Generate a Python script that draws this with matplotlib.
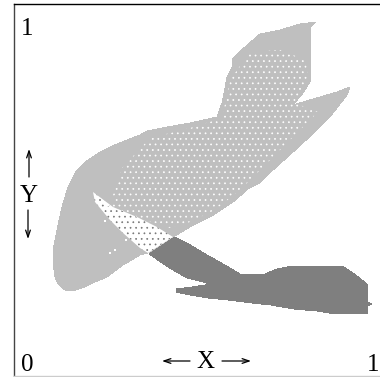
import numpy as np
import matplotlib
matplotlib.use("Agg")
import matplotlib.pyplot as plt

plt.rcParams["font.family"] = ["Liberation Serif", "DejaVu Serif"]
plt.rcParams["hatch.linewidth"] = 0.5

W, H = 380, 377
LEFT, TOP, BOTTOM = 14, 4, 376
LIGHT = "#bfbfbf"
DARK = "#7f7f7f"

# outlines (image pixels, converted below)
light_x = [316, 311, 310, 311, 303, 293, 303, 320, 337, 350, 347, 333, 317, 293, 273, 260,
           248, 233, 210, 190, 173, 148, 140, 123, 107, 95, 82, 72, 65, 58, 55, 53, 54, 57, 62, 68,
           75, 85, 100, 117, 140, 147, 173, 190, 217, 222, 225, 227, 232, 233, 245, 260, 280, 300]
light_y = [22, 27, 50, 80, 93, 105, 102, 97, 92, 87, 95, 113, 130, 152, 170, 183,
           189, 202, 217, 227, 237, 253, 255, 265, 277, 282, 288, 291, 290, 284, 277, 262, 245, 230, 207, 187,
           173, 162, 152, 144, 135, 131, 126, 123, 117, 103, 88, 77, 67, 58, 47, 34, 30, 24]

wedge_x = [93, 113, 137, 157, 173, 148, 140, 123, 110, 95]
wedge_y = [192, 207, 217, 227, 237, 253, 248, 233, 220, 202]

dark_x = [149, 175, 187, 207, 223, 240, 265, 277, 292, 342, 353, 367, 368, 372, 368, 368,
          336, 317, 294, 271, 252, 228, 208, 190, 176, 176, 192, 205, 210, 203, 187, 168, 155]
dark_y = [254, 237, 243, 255, 264, 274, 274, 269, 266, 266, 273, 284, 302, 304, 306, 314,
          314, 311, 309, 305, 303, 300, 298, 295, 292, 289, 287, 285, 284, 282, 278, 267, 258]

# part of the light shape that carries the white speckle
speck_x = [113, 122, 150, 190, 222, 230, 250, 280, 306, 308, 295, 318, 300, 280, 255, 240, 215, 190, 170, 137, 113]
speck_y = [195, 168, 138, 128, 118, 80, 52, 50, 60, 80, 103, 112, 130, 150, 175, 190, 210, 222, 228, 217, 207]

stray_x = [105, 126, 115, 110, 108]
stray_y = [221, 240, 250, 253, 205]

corner_labels = ["1", "0", "1"]


def ux(px):
    return (np.asarray(px, dtype=float) - LEFT) / (W - LEFT)


def uy(py):
    return (BOTTOM - np.asarray(py, dtype=float)) / (BOTTOM - TOP)


fig = plt.figure(figsize=(W / 100, H / 100), dpi=100)
ax = fig.add_axes([LEFT / W, (H - BOTTOM) / H, (W - LEFT) / W, (BOTTOM - TOP) / H])
ax.set_xlim(0, 1)
ax.set_ylim(0, 1)
ax.set_xticks([])
ax.set_yticks([])

ax.spines["right"].set_visible(False)
ax.spines["top"].set_color("black")
ax.spines["left"].set_color("#444444")
ax.spines["bottom"].set_color("#cccccc")
for s in ax.spines.values():
    s.set_linewidth(1.0)

ax.fill(ux(light_x), uy(light_y), color=LIGHT, lw=0, antialiased=False, zorder=1)
ax.fill(ux(speck_x), uy(speck_y), facecolor="none", edgecolor="white", hatch="...", lw=0, zorder=2)
ax.fill(ux(wedge_x), uy(wedge_y), facecolor="white", edgecolor="#777777", hatch="...", lw=0, zorder=3)
ax.fill(ux(dark_x), uy(dark_y), color=DARK, lw=0, antialiased=False, zorder=4)
ax.scatter(ux(stray_x), uy(stray_y), s=2, marker="s", color="white", lw=0, zorder=3)

# labels
ax.text(ux(27), uy(29), corner_labels[0], fontsize=18, ha="center", va="center")
ax.text(ux(27), uy(365), corner_labels[1], fontsize=18, ha="center", va="center")
ax.text(ux(373), uy(365), corner_labels[2], fontsize=18, ha="center", va="center")
ax.text(ux(205), uy(362), "X", fontsize=18, ha="center", va="center")
ax.text(ux(29), uy(196), "Y", fontsize=18, ha="center", va="center")

arrow = dict(arrowstyle="->,head_length=0.5,head_width=0.17", lw=0.9, color="black",
             shrinkA=0, shrinkB=0)
for (x0, y0, x1, y1) in [(190, 361, 162, 361), (222, 361, 251, 361),
                         (29, 177, 29, 149), (28, 210, 28, 239)]:
    ax.annotate("", xy=(ux(x1), uy(y1)), xytext=(ux(x0), uy(y0)), arrowprops=arrow)

fig.savefig("out.png", dpi=100)
